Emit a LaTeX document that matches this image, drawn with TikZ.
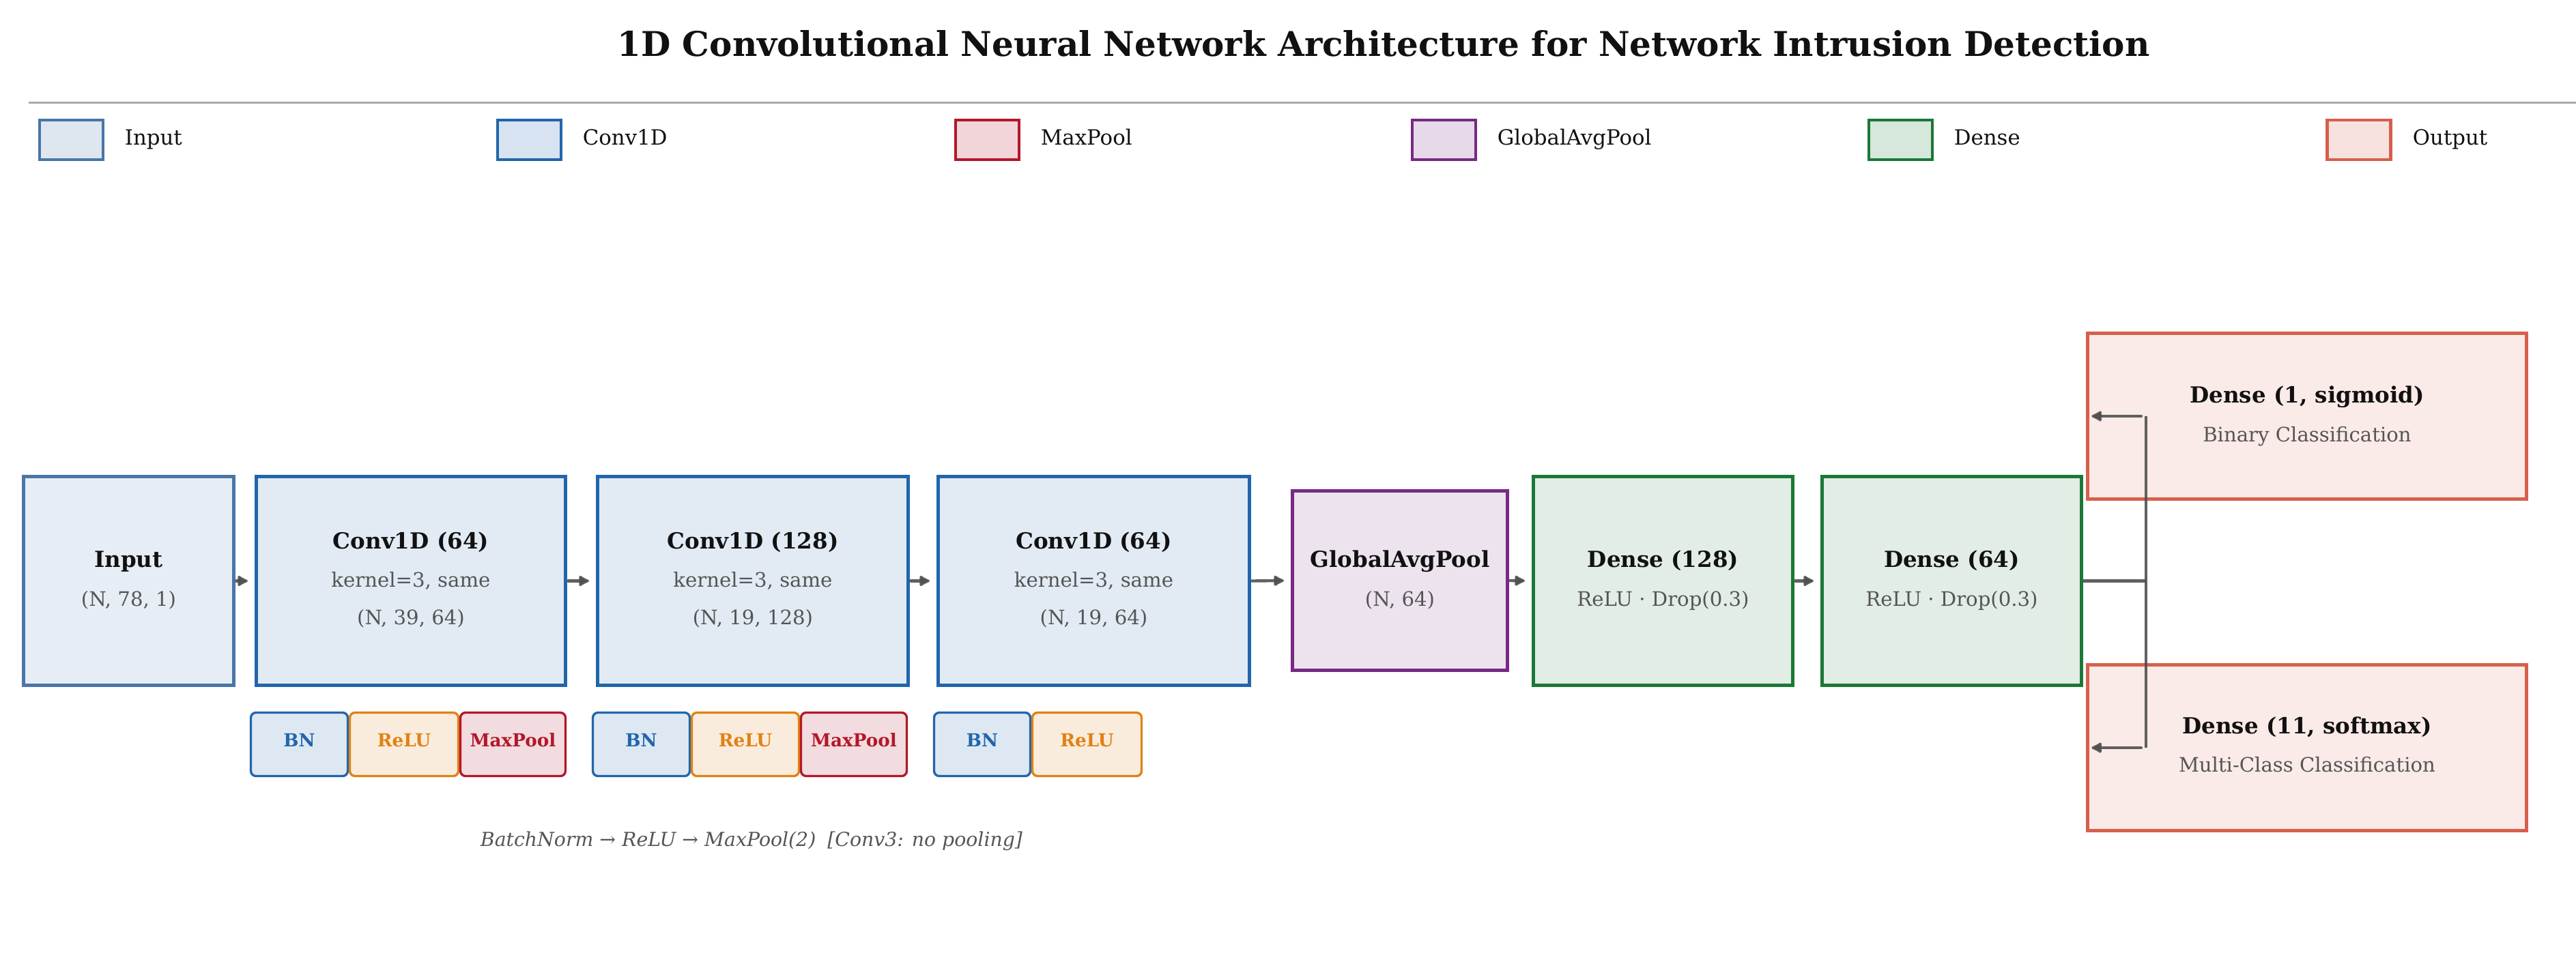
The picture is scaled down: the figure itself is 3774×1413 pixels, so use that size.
\documentclass[tikz,border=0pt]{standalone}
\usepackage{fontspec}
\setmainfont{DejaVu Serif}
\usetikzlibrary{arrows.meta}
\definecolor{cin}{HTML}{4A76A8}
\definecolor{cconv}{HTML}{2166AC}
\definecolor{cmax}{HTML}{B2182B}
\definecolor{cgap}{HTML}{762A83}
\definecolor{cden}{HTML}{1B7837}
\definecolor{cout}{HTML}{D6604D}
\definecolor{crelu}{HTML}{E08214}
\definecolor{cline}{HTML}{505050}
\definecolor{csub}{HTML}{555555}
\definecolor{ctitle}{HTML}{111111}
\definecolor{crule}{HTML}{AAAAAA}
\begin{document}
\begin{tikzpicture}[x=0.24pt,y=-0.24pt,
  box/.style={draw=#1, fill=#1!13, line width=1.2pt, inner sep=0pt, anchor=center},
  legbox/.style={draw=#1, fill=#1!18, line width=1pt, inner sep=0pt, minimum width={93*0.24pt}, minimum height={58*0.24pt}},
  subblk/.style={draw=#1, fill=#1!15, line width=0.8pt, rounded corners=1.8pt, inner sep=0pt, minimum height={93*0.24pt}, text=#1, font=\fontsize{6.3}{7}\selectfont\bfseries, text height=0.55em, text depth=0.37em},
  ttl/.style={inner sep=0pt, text=ctitle, font=\fontsize{7.8}{9}\selectfont\bfseries, text height=0.72em, text depth=0.2em},
  otl/.style={inner sep=0pt, text=ctitle, font=\fontsize{7.8}{9}\selectfont\bfseries, text height=0.72em, text depth=0.2em},
  sub/.style={inner sep=0pt, text=csub, font=\fontsize{7}{8}\selectfont, text height=0.72em, text depth=0.2em},
  legtxt/.style={inner sep=0pt, anchor=west, text=ctitle, font=\fontsize{7.4}{8.5}\selectfont, text height=0.72em, text depth=0.2em},
  conn/.style={draw=cline, draw opacity=0.9, line width=1.05pt, line cap=round},
  arr/.style={conn, -{Latex[length=4.4pt,width=4.6pt,round]}, shorten >=2.4pt, shorten <=0.3pt}
]
\useasboundingbox (0,0) rectangle (3774,1413);

% title
\node[inner sep=0pt, text=ctitle, font=\fontsize{12}{14}\selectfont\bfseries, text height=0.72em, text depth=0.2em] (title) at (2027,72) {1D Convolutional Neural Network Architecture for Network Intrusion Detection};
\draw[draw=crule, line width=0.72pt] (42,151) -- (3774,151);

% legend
\node[legbox=cin] (lg1) at (104.5,205) {};
\node[legtxt] (lt1) at (182,202) {Input};
\node[legbox=cconv] (lg2) at (775.5,205) {};
\node[legtxt] (lt2) at (853,202) {Conv1D};
\node[legbox=cmax] (lg3) at (1446.5,205) {};
\node[legtxt] (lt3) at (1524,202) {MaxPool};
\node[legbox=cgap] (lg4) at (2115.5,205) {};
\node[legtxt] (lt4) at (2193,202) {GlobalAvgPool};
\node[legbox=cden] (lg5) at (2784.5,205) {};
\node[legtxt] (lt5) at (2862,202) {Dense};
\node[legbox=cout] (lg6) at (3456,205) {};
\node[legtxt] (lt6) at (3534,202) {Output};

% main boxes
\node[box=cin, minimum width={308*0.24pt}, minimum height={306*0.24pt}] (in) at (188.5,851.5) {};
\node[box=cconv, minimum width={453*0.24pt}, minimum height={306*0.24pt}] (c1) at (602,851.5) {};
\node[box=cconv, minimum width={455*0.24pt}, minimum height={306*0.24pt}] (c2) at (1103,851.5) {};
\node[box=cconv, minimum width={456*0.24pt}, minimum height={306*0.24pt}] (c3) at (1602.5,851.5) {};
\node[box=cgap, minimum width={315*0.24pt}, minimum height={263*0.24pt}] (gap) at (2051,851) {};
\node[box=cden, minimum width={380*0.24pt}, minimum height={306*0.24pt}] (d1) at (2436.5,851.5) {};
\node[box=cden, minimum width={380*0.24pt}, minimum height={306*0.24pt}] (d2) at (2859.5,851.5) {};
\node[box=cout, minimum width={643*0.24pt}, minimum height={243*0.24pt}] (o1) at (3380,610) {};
\node[box=cout, minimum width={643*0.24pt}, minimum height={243*0.24pt}] (o2) at (3380,1096) {};

% box texts
\node[ttl] (int) at (188.5,821) {Input};
\node[sub] (ins) at (188.5,878) {(N, 78, 1)};
\node[ttl] (c1t) at (602,794) {Conv1D (64)};
\node[sub] (c1k) at (602,850) {kernel=3, same};
\node[sub] (c1s) at (602,905) {(N, 39, 64)};
\node[ttl] (c2t) at (1103,794) {Conv1D (128)};
\node[sub] (c2k) at (1103,850) {kernel=3, same};
\node[sub] (c2s) at (1103,905) {(N, 19, 128)};
\node[ttl] (c3t) at (1602.5,794) {Conv1D (64)};
\node[sub] (c3k) at (1602.5,850) {kernel=3, same};
\node[sub] (c3s) at (1602.5,905) {(N, 19, 64)};
\node[ttl] (gapt) at (2051,821) {GlobalAvgPool};
\node[sub] (gaps) at (2051,878) {(N, 64)};
\node[ttl] (d1t) at (2436.5,821) {Dense (128)};
\node[sub] (d1s) at (2436.5,878) {ReLU · Drop(0.3)};
\node[ttl] (d2t) at (2859.5,821) {Dense (64)};
\node[sub] (d2s) at (2859.5,878) {ReLU · Drop(0.3)};
\node[otl] (o1t) at (3380,580) {Dense (1, sigmoid)};
\node[sub] (o1s) at (3380,637) {Binary Classification};
\node[otl] (o2t) at (3380,1065) {Dense (11, softmax)};
\node[sub] (o2s) at (3380,1121) {Multi-Class Classification};

% sub blocks
\node[subblk=cconv, minimum width={142*0.24pt}] (bn1) at (438.5,1091) {BN};
\node[subblk=crelu, minimum width={159*0.24pt}] (re1) at (592,1091) {ReLU};
\node[subblk=cmax, minimum width={154*0.24pt}] (mp1) at (751.5,1091) {MaxPool};
\node[subblk=cconv, minimum width={142*0.24pt}] (bn2) at (939.5,1091) {BN};
\node[subblk=crelu, minimum width={157*0.24pt}] (re2) at (1092,1091) {ReLU};
\node[subblk=cmax, minimum width={155*0.24pt}] (mp2) at (1251,1091) {MaxPool};
\node[subblk=cconv, minimum width={141*0.24pt}] (bn3) at (1439,1091) {BN};
\node[subblk=crelu, minimum width={160*0.24pt}] (re3) at (1592.5,1091) {ReLU};

\node[inner sep=0pt, text=csub, font=\fontsize{6.8}{8}\selectfont\itshape, text height=0.72em, text depth=0.2em] (cap) at (1101,1230) {BatchNorm → ReLU → MaxPool(2)\hspace{0.6em}[Conv3: no pooling]};

% arrows
\draw[arr] (in.east) -- (c1.west);
\draw[arr] (c1.east) -- (c2.west);
\draw[arr] (c2.east) -- (c3.west);
\draw[arr] (c3.east) -- (gap.west);
\draw[arr] (gap.east) -- (d1.west);
\draw[arr] (d1.east) -- (d2.west);

\coordinate (j) at (3144,851.5);
\coordinate (jt) at (3144,610);
\coordinate (jb) at (3144,1096);
\draw[conn, line cap=butt] (d2.east) -- (j);
\draw[conn, line cap=butt] (jt) -- (jb);
\draw[arr, shorten >=2pt, shorten <=1.7pt] (jt) -- (o1.west);
\draw[arr, shorten >=2pt, shorten <=1.7pt] (jb) -- (o2.west);
\end{tikzpicture}
\end{document}
